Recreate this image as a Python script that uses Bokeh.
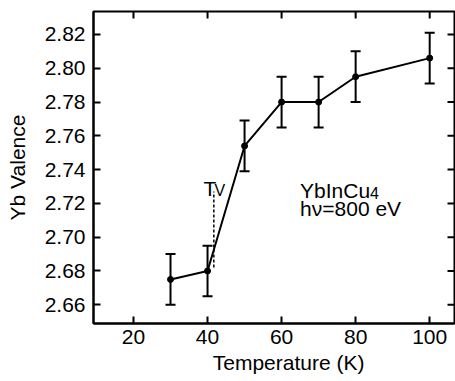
from bokeh.plotting import figure
from bokeh.models import (ColumnDataSource, Whisker, TeeHead, FixedTicker,
                          PrintfTickFormatter, Range1d)
from bokeh.core.properties import value
from bokeh.embed import file_html
from bokeh.resources import INLINE

# ---- data ----
temperature = [30, 40, 50, 60, 70, 80, 100]
valence = [2.675, 2.680, 2.754, 2.780, 2.780, 2.795, 2.806]
valence_err = [0.015, 0.015, 0.015, 0.015, 0.015, 0.015, 0.015]
x_ticks = [20, 40, 60, 80, 100]
y_ticks = [2.66, 2.68, 2.70, 2.72, 2.74, 2.76, 2.78, 2.80, 2.82]
tv_x = [41.7, 41.7]
tv_y = [2.682, 2.727]

FONT = "Liberation Sans"
FS = "21px"

W, H = 455, 381
BL, BR, BT, BB = 93, 1, 11, 58
X0, X1 = 9.2, 106.7
Y0, Y1 = 2.6489, 2.8336
TICK = 7  # px, inward tick length

src = ColumnDataSource(dict(
    x=temperature, y=valence,
    upper=[v + e for v, e in zip(valence, valence_err)],
    lower=[v - e for v, e in zip(valence, valence_err)],
))

p = figure(width=W, height=H, output_backend="svg", toolbar_location=None,
           x_range=Range1d(X0, X1), y_range=Range1d(Y0, Y1),
           min_border_left=BL, min_border_right=BR, min_border_top=BT, min_border_bottom=BB,
           background_fill_color="white", border_fill_color="white")
p.grid.visible = False
p.outline_line_color = "black"
p.outline_line_width = 2

def style_axis(ax, ticks):
    ax.ticker = FixedTicker(ticks=ticks)
    ax.major_tick_in = TICK
    ax.major_tick_out = 0
    ax.minor_tick_line_color = None
    ax.major_tick_line_width = 2
    ax.major_tick_line_color = "black"
    ax.axis_line_width = 2
    ax.axis_line_color = "black"
    ax.major_label_text_font = FONT
    ax.major_label_text_color = "black"
    ax.major_label_text_font_size = FS
    ax.axis_label_text_font = FONT
    ax.axis_label_text_font_size = FS
    ax.axis_label_text_font_style = "normal"
    ax.axis_label_text_color = "black"

xa = p.xaxis[0]
ya = p.yaxis[0]
style_axis(xa, x_ticks)
style_axis(ya, y_ticks)
ya.formatter = PrintfTickFormatter(format="%.2f")
xa.major_label_standoff = 6
ya.major_label_standoff = 8
ya.axis_label = "Yb Valence"
ya.axis_label_standoff = 13
xa.axis_label = "\u00a0" * 5 + "Temperature (K)"
xa.axis_label_standoff = 4

# mirrored inward ticks on the top and right edges, drawn as head-less whiskers
dy = TICK * (Y1 - Y0) / (H - BT - BB)
dx = TICK * (X1 - X0) / (W - BL - BR)
top_src = ColumnDataSource(dict(base=x_ticks,
                                lo=[Y1 - dy] * len(x_ticks), hi=[Y1] * len(x_ticks)))
right_src = ColumnDataSource(dict(base=y_ticks,
                                  lo=[X1 - dx] * len(y_ticks), hi=[X1] * len(y_ticks)))
p.add_layout(Whisker(source=top_src, base="base", lower="lo", upper="hi",
                     dimension="height", line_color="black", line_width=2,
                     upper_head=None, lower_head=None))
p.add_layout(Whisker(source=right_src, base="base", lower="lo", upper="hi",
                     dimension="width", line_color="black", line_width=2,
                     upper_head=None, lower_head=None))

# error bars
p.add_layout(Whisker(source=src, base="x", upper="upper", lower="lower",
                     line_color="black", line_width=2,
                     upper_head=TeeHead(size=10, line_width=2, line_color="black"),
                     lower_head=TeeHead(size=10, line_width=2, line_color="black")))
p.line("x", "y", source=src, line_color="black", line_width=2)
p.scatter("x", "y", source=src, size=6, color="black")

# T_V dashed marker
p.line(tv_x, tv_y, line_color="black", line_width=1.5, line_dash="3 2")

def txt(x, y, t, size=FS, xo=0, yo=0):
    p.text(x=[x], y=[y], text=[t], text_font=value(FONT), text_font_size=size,
           text_color="black", text_baseline="alphabetic", text_align="left",
           x_offset=xo, y_offset=yo)

txt(38.9, 2.7287, "T")
txt(38.9, 2.7287, "V", size="16px", xo=11, yo=2)
txt(65.0, 2.7276, "YbInCu")
txt(65.0, 2.7276, "4", size="16px", xo=70, yo=2)
txt(65.0, 2.7167, "h\u03bd=800 eV")

open("out.html", "w").write(file_html(p, INLINE))
